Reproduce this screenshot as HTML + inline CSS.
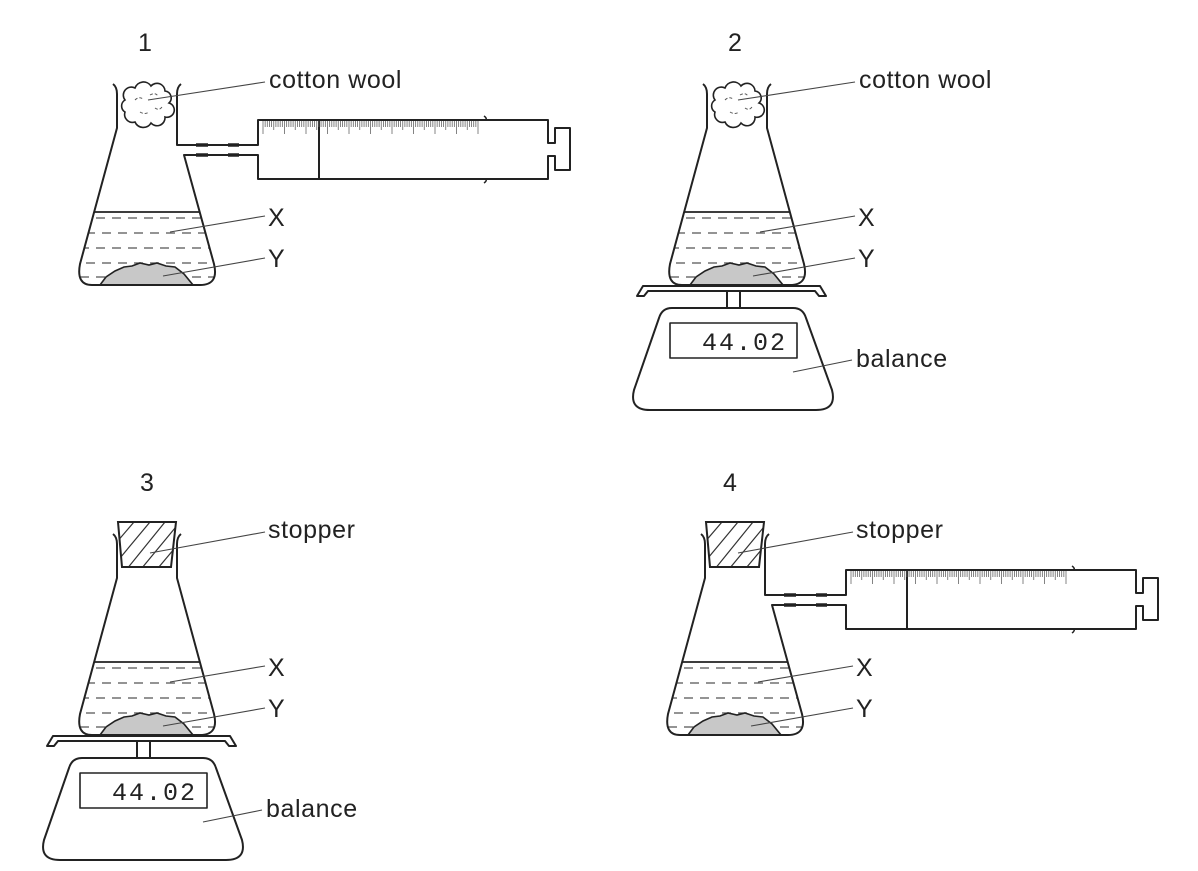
<!DOCTYPE html>
<html><head><meta charset="utf-8"><style>
html,body{margin:0;padding:0;background:#fff;}
svg{display:block;}
text{font-family:"Liberation Sans",sans-serif;fill:#222;}
</style></head><body>
<svg width="1198" height="871" viewBox="0 0 1198 871" xmlns="http://www.w3.org/2000/svg">
<defs>
<clipPath id="inside"><path d="M117,128 L177,128 L214,264 Q219,285 200,285 H92 Q76,285 80,264 Z"/></clipPath>
<clipPath id="stclip"><path d="M118,72 H176 L171,117 H122 Z"/></clipPath>
<g id="contents">
  <g clip-path="url(#inside)" stroke="#555" stroke-width="1.2" stroke-dasharray="9 7">
    <line x1="80" y1="218" x2="220" y2="218"/>
    <line x1="86" y1="233" x2="220" y2="233"/>
    <line x1="80" y1="248" x2="220" y2="248"/>
    <line x1="86" y1="263" x2="220" y2="263"/>
    <line x1="80" y1="277" x2="220" y2="277"/>
  </g>
  <line x1="94" y1="212" x2="199" y2="212" stroke="#222" stroke-width="1.8"/>
  <path d="M100,285 L106,277 L115,271 L124,267 L132,266 L140,263 L149,265 L157,263 L166,266 L175,267 L184,274 L193,285 Z" fill="#c8c8c8" stroke="#222" stroke-width="1.6"/>
</g>
<g id="flaskPlain" fill="none" stroke="#222" stroke-width="2" stroke-linejoin="round">
  <path d="M113,84 Q117,87 117,94 V128 L80,264 Q76,285 92,285 H200 Q219,285 214,264 L177,128 V94 Q177,87 181,84"/>
</g>
<g id="flaskArm" fill="none" stroke="#222" stroke-width="2" stroke-linejoin="round">
  <path d="M113,84 Q117,87 117,94 V128 L80,264 Q76,285 92,285 H200 Q219,285 214,264 L184,155 H258 V179 H548 V156 H555 V170 H570 V128 H555 V143 H548 V120 H258 V145 H177 V94 Q177,87 181,84"/>
  <line x1="319" y1="120" x2="319" y2="179"/>
  <path d="M484,116 Q487,118 486,120 M484,183 Q487,181 486,179" stroke-width="1.5"/>
  <g stroke-width="3.5">
    <line x1="196" y1="145" x2="208" y2="145"/><line x1="228" y1="145" x2="239" y2="145"/>
    <line x1="196" y1="155" x2="208" y2="155"/><line x1="228" y1="155" x2="239" y2="155"/>
  </g>
</g>
<g id="cotton">
  <path d="M125,100 a8,8 0 0 1 10,-12 a9,9 0 0 1 16,-2 a8,8 0 0 1 14,5 a7,7 0 0 1 4,12 a7,7 0 0 1 -4,14 a8,8 0 0 1 -14,6 a9,9 0 0 1 -16,-1 a8,8 0 0 1 -10,-10 a7,7 0 0 1 0,-12 Z" fill="#fff" stroke="#222" stroke-width="1.6"/>
  <path d="M135,100 q4,-4 8,-1 M150,95 q5,-3 8,1 M140,112 q5,3 9,0 M155,108 q4,3 7,-1" fill="none" stroke="#555" stroke-width="1" stroke-dasharray="3 2"/>
</g>
<g id="stopper">
  <path d="M118,72 H176 L171,117 H122 Z" fill="#fff"/>
  <g clip-path="url(#stclip)" stroke="#333" stroke-width="1.2">
    <line x1="110" y1="100" x2="140" y2="65"/><line x1="110" y1="120" x2="150" y2="72"/>
    <line x1="118" y1="130" x2="165" y2="72"/><line x1="132" y1="130" x2="180" y2="72"/>
    <line x1="148" y1="130" x2="190" y2="80"/><line x1="162" y1="130" x2="190" y2="95"/>
  </g>
  <path d="M118,72 H176 L171,117 H122 Z" fill="none" stroke="#222" stroke-width="2"/>
</g>
<g id="balance" fill="none" stroke="#222" stroke-width="2" stroke-linejoin="round">
  <path d="M637,296 L643,286 H820 L826,296 H819 L815,291 H648 L644,296 Z" fill="#fff"/>
  <line x1="727" y1="291" x2="727" y2="308"/><line x1="740" y1="291" x2="740" y2="308"/>
  <path d="M672,308 H793 Q803,308 806,318 L832,390 Q837,410 816,410 H650 Q629,410 634,390 L659,318 Q662,308 672,308 Z"/>
  <rect x="670" y="323" width="127" height="35" stroke-width="1.6"/>
</g>
</defs>

<g>
  <use href="#contents"/><use href="#flaskArm"/><use href="#cotton"/>
</g>
<g transform="translate(590,0)">
  <use href="#contents"/><use href="#flaskPlain"/><use href="#cotton"/>
</g>
<use href="#balance"/>
<g transform="translate(0,450)">
  <use href="#contents"/><use href="#flaskPlain"/><use href="#stopper"/>
</g>
<use href="#balance" transform="translate(-590,450)"/>
<g transform="translate(588,450)">
  <use href="#contents"/><use href="#flaskArm"/><use href="#stopper"/>
</g>

<script>
(function(){
 var s="";
 for(var i=0;i<=100;i++){var x=263+i*2.15;var l=(i%10==0)?13:((i%5==0)?9:6);s+="M"+x.toFixed(2)+",121 V"+(121+l)+" ";}
 var ns="http://www.w3.org/2000/svg";var svg=document.querySelector("svg");
 [[0,0],[588,450]].forEach(function(o){var p=document.createElementNS(ns,"path");p.setAttribute("d",s);p.setAttribute("stroke","#666");p.setAttribute("stroke-width","0.8");p.setAttribute("transform","translate("+o[0]+","+o[1]+")");svg.appendChild(p);});
})();
</script>

<g stroke="#444" stroke-width="1.1">
  <line x1="148" y1="100" x2="265" y2="82"/><line x1="170" y1="232" x2="265" y2="216"/><line x1="163" y1="276" x2="265" y2="258"/>
  <line x1="738" y1="100" x2="855" y2="82"/><line x1="760" y1="232" x2="855" y2="216"/><line x1="753" y1="276" x2="855" y2="258"/><line x1="793" y1="372" x2="852" y2="360"/>
  <line x1="150" y1="553" x2="265" y2="532"/><line x1="170" y1="682" x2="265" y2="666"/><line x1="163" y1="726" x2="265" y2="708"/><line x1="203" y1="822" x2="262" y2="810"/>
  <line x1="738" y1="553" x2="853" y2="532"/><line x1="758" y1="682" x2="853" y2="666"/><line x1="751" y1="726" x2="853" y2="708"/>
</g>

<g font-size="25">
  <text x="138" y="51">1</text>
  <text x="269" y="88" letter-spacing="0.6">cotton wool</text>
  <text x="268" y="226">X</text>
  <text x="268" y="267">Y</text>
  <text x="728" y="51">2</text>
  <text x="859" y="88" letter-spacing="0.6">cotton wool</text>
  <text x="858" y="226">X</text>
  <text x="858" y="267">Y</text>
  <text x="856" y="367" letter-spacing="0.6">balance</text>
  <text x="140" y="491">3</text>
  <text x="268" y="538" letter-spacing="0.6">stopper</text>
  <text x="268" y="676">X</text>
  <text x="268" y="717">Y</text>
  <text x="266" y="817" letter-spacing="0.6">balance</text>
  <text x="723" y="491">4</text>
  <text x="856" y="538" letter-spacing="0.6">stopper</text>
  <text x="856" y="676">X</text>
  <text x="856" y="717">Y</text>
</g>
<g font-size="25" letter-spacing="2">
  <text x="702" y="350" style="font-family:'Liberation Mono',monospace">44.02</text>
  <text x="112" y="800" style="font-family:'Liberation Mono',monospace">44.02</text>
</g>
</svg>
</body></html>
